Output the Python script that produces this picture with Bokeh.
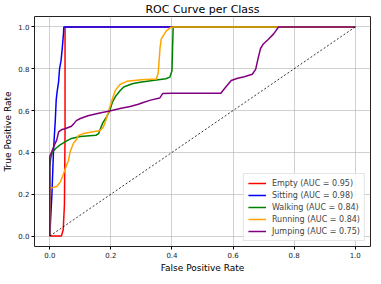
from bokeh.plotting import figure
from bokeh.models import FixedTicker, Range1d, Legend, LegendItem, CustomJSTickFormatter
from bokeh.embed import file_html
from bokeh.resources import INLINE

classes = ["Empty", "Sitting", "Walking", "Running", "Jumping"]
aucs = [0.95, 0.98, 0.84, 0.84, 0.75]
colors = ["red", "blue", "green", "orange", "purple"]

fpr_empty = [0, 0.038, 0.044, 0.048, 0.05, 0.05, 1.0]
tpr_empty = [0, 0, 0.03, 0.15, 0.5, 1.0, 1.0]

fpr_sitting = [0, 0.007, 0.012, 0.015, 0.018, 0.021, 0.024, 0.029, 0.032, 0.037, 0.041, 0.045, 0.046, 1.0]
tpr_sitting = [0, 0.2, 0.4, 0.48, 0.55, 0.65, 0.69, 0.74, 0.8, 0.84, 0.9, 0.97, 1.0, 1.0]

fpr_walking = [0, 0, 0.003, 0.008, 0.02, 0.034, 0.05, 0.071, 0.1, 0.151, 0.16, 0.173, 0.186, 0.196,
               0.205, 0.215, 0.23, 0.242, 0.27, 0.295, 0.349, 0.38, 0.393, 0.4, 0.402, 0.404, 1.0]
tpr_walking = [0, 0.33, 0.37, 0.40, 0.42, 0.436, 0.45, 0.467, 0.476, 0.482, 0.49, 0.54, 0.57, 0.598,
               0.64, 0.667, 0.695, 0.713, 0.728, 0.736, 0.746, 0.752, 0.76, 0.79, 0.9, 1.0, 1.0]

fpr_running = [0, 0, 0.01, 0.023, 0.035, 0.045, 0.055, 0.061, 0.066, 0.071, 0.078, 0.087, 0.093, 0.11,
               0.146, 0.165, 0.175, 0.185, 0.194, 0.205, 0.215, 0.23, 0.252, 0.3, 0.349, 0.355, 0.357,
               0.361, 0.365, 0.381, 0.395, 0.404, 1.0]
tpr_running = [0, 0.23, 0.232, 0.237, 0.26, 0.298, 0.34, 0.36, 0.40, 0.42, 0.445, 0.46, 0.48, 0.49,
               0.50, 0.505, 0.52, 0.56, 0.605, 0.655, 0.698, 0.725, 0.74, 0.747, 0.751, 0.78, 0.82,
               0.9, 0.943, 0.98, 0.997, 1.0, 1.0]

fpr_jumping = [0, 0, 0.007, 0.015, 0.023, 0.029, 0.04, 0.05, 0.071, 0.08, 0.087, 0.1, 0.125, 0.16,
               0.196, 0.23, 0.263, 0.29, 0.306, 0.33, 0.36, 0.37, 0.40, 0.56, 0.575, 0.594, 0.615,
               0.637, 0.663, 0.674, 0.682, 0.69, 0.7, 0.715, 0.733, 0.749, 1.0]
tpr_jumping = [0, 0.38, 0.405, 0.435, 0.46, 0.498, 0.51, 0.513, 0.525, 0.54, 0.552, 0.562, 0.575, 0.587,
               0.598, 0.61, 0.62, 0.63, 0.639, 0.65, 0.66, 0.682, 0.683, 0.683, 0.71, 0.744, 0.755,
               0.762, 0.774, 0.797, 0.85, 0.897, 0.92, 0.94, 0.967, 1.0, 1.0]

fprs = [fpr_empty, fpr_sitting, fpr_walking, fpr_running, fpr_jumping]
tprs = [tpr_empty, tpr_sitting, tpr_walking, tpr_running, tpr_jumping]
diag = [0, 1]
ticks = [0.0, 0.2, 0.4, 0.6, 0.8, 1.0]

FONT = "DejaVu Sans"

p = figure(frame_width=336, frame_height=230, output_backend="svg", toolbar_location=None,
           x_range=Range1d(-0.05, 1.05), y_range=Range1d(-0.05, 1.05),
           min_border_left=0, min_border_right=1, min_border_top=0, min_border_bottom=0)

p.title.text = "ROC Curve per Class"
p.title.align = "center"
p.title.text_font = FONT
p.title.text_font_size = "11px"
p.title.text_font_style = "normal"
p.title.text_color = "black"
p.title.standoff = 1

items = []
for name, auc, col, fx, ty in zip(classes, aucs, colors, fprs, tprs):
    r = p.line(fx, ty, line_color=col, line_width=1.5)
    items.append(LegendItem(label=f"{name} (AUC = {auc:.2f})", renderers=[r]))

p.line(diag, diag, line_color="black", line_width=0.8, line_dash="2 2")

legend = Legend(items=items, location="bottom_right")
legend.label_text_font = FONT
legend.label_text_font_size = "8px"
legend.label_height = 10
legend.glyph_height = 10
legend.glyph_width = 18
legend.label_standoff = 6
legend.spacing = 2
legend.padding = 4
legend.margin = 5
legend.border_line_color = "#cccccc"
legend.background_fill_alpha = 0.85
p.add_layout(legend)

fmt = CustomJSTickFormatter(code="return tick.toFixed(1);")
for ax in (p.xaxis, p.yaxis):
    ax.ticker = FixedTicker(ticks=ticks)
    ax.formatter = fmt
    ax.major_label_text_font = FONT
    ax.major_label_text_font_size = "7px"
    ax.major_label_text_color = "#222222"
    ax.axis_label_text_font = FONT
    ax.axis_label_text_font_size = "9px"
    ax.axis_label_text_font_style = "normal"
    ax.axis_label_text_color = "black"
    ax.minor_tick_line_color = None
    ax.major_tick_out = 3
    ax.major_tick_in = 0
    ax.axis_line_color = None
    ax.major_label_standoff = 2
    ax.axis_label_standoff = 2

p.xaxis.axis_label = "False Positive Rate"
p.yaxis.axis_label = "True Positive Rate"

p.xgrid.grid_line_color = "#b0b0b0"
p.ygrid.grid_line_color = "#b0b0b0"
p.xgrid.grid_line_alpha = 0.6
p.ygrid.grid_line_alpha = 0.6
p.outline_line_color = "#222222"
p.outline_line_width = 1
p.outline_line_alpha = 1

open("out.html", "w").write(file_html(p, INLINE))
